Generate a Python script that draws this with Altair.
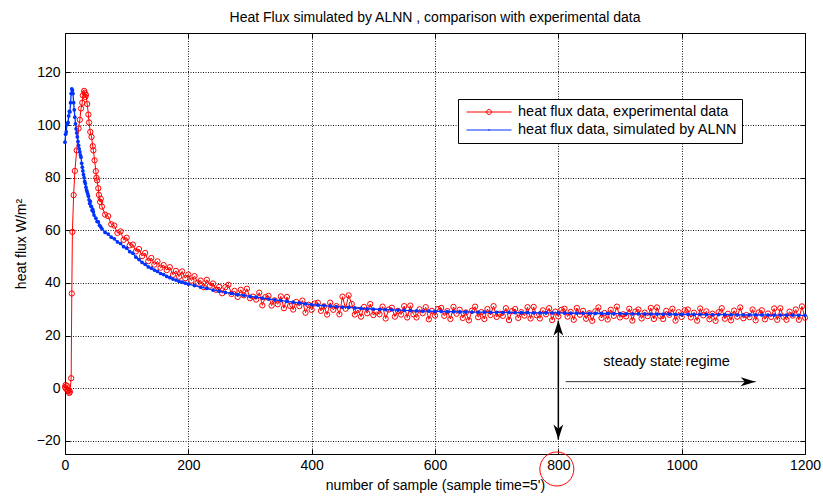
import altair as alt
import pandas as pd

EXP = "heat flux data, experimental data"
SIM = "heat flux data, simulated by ALNN"
FONT = "Liberation Sans"

# ---------------- experimental data (red, circles) ----------------
exp_early_x = [0, 1, 2, 3, 4, 5, 6, 7, 8, 10, 11, 12, 14, 16, 19, 22, 24, 26, 28, 29,
               31, 32, 33, 34, 36, 38, 39, 41, 43, 45, 46, 48, 50, 51, 52, 54, 55, 57, 58]
exp_early_y = [0.4, 1.2, -0.3, 0.9, -0.6, -1.2, -0.8, -1.8, -1.3, 3.8, 36.0, 59.4, 73.4, 82.6,
               90.4, 98.7, 102.0, 106.3, 108.5, 111.3, 113.0, 112.3, 110.7, 111.5, 108.0,
               104.0, 101.0, 97.4, 95.5, 92.0, 90.4, 86.6, 82.5, 80.0, 79.0, 76.0, 73.5,
               70.8, 72.0]
exp_step_x = list(range(60, 1201, 5))
exp_step_y = [
    69.0, 66.0, 65.4, 62.3, 61.8, 59.0, 59.6, 56.4, 57.2, 54.3,
    54.6, 52.0, 52.9, 50.2, 51.4, 48.3, 49.5, 47.0, 48.2, 45.8,
    46.8, 44.9, 46.0, 43.1, 44.6, 42.4, 44.4, 41.8, 43.2, 40.9,
    42.6, 40.1, 40.9, 38.4, 41.2, 39.0, 39.8, 37.4, 38.5, 36.1,
    38.4, 39.3, 35.8, 37.0, 34.7, 37.4, 35.3, 37.8, 34.2, 34.8,
    33.7, 36.3, 31.5, 34.6, 35.1, 31.4, 33.4, 31.9, 34.9, 30.4,
    34.7, 31.3, 29.9, 32.8, 31.2, 33.3, 28.7, 31.7, 29.8, 32.2,
    32.5, 29.4, 31.1, 28.0, 32.5, 29.8, 31.2, 28.1, 34.8, 30.2,
    35.3, 32.0, 28.0, 29.8, 27.2, 30.9, 28.5, 32.0, 27.8, 29.0,
    28.1, 31.0, 26.5, 29.9, 30.6, 27.2, 29.4, 28.0, 31.2, 26.9,
    31.4, 28.1, 26.9, 30.0, 28.5, 30.8, 26.2, 29.4, 27.6, 30.1,
    30.5, 27.5, 29.3, 26.3, 30.9, 28.3, 29.8, 26.7, 28.8, 25.8,
    29.5, 31.0, 27.0, 28.9, 26.3, 30.1, 27.8, 31.2, 27.1, 28.3,
    27.5, 30.4, 25.9, 29.3, 30.1, 26.7, 28.9, 27.6, 30.8, 26.5,
    30.9, 27.7, 26.5, 29.6, 28.1, 30.4, 25.9, 29.1, 27.3, 29.8,
    30.2, 27.2, 29.0, 26.0, 30.5, 27.9, 29.4, 26.4, 28.5, 25.6,
    29.2, 30.7, 26.7, 28.6, 26.1, 29.8, 27.5, 31.0, 26.9, 28.1,
    27.3, 30.2, 25.7, 29.1, 29.9, 26.5, 28.7, 27.4, 30.5, 26.3,
    30.7, 27.5, 26.3, 29.4, 27.9, 30.2, 25.7, 28.9, 27.1, 29.6,
    29.9, 26.9, 28.7, 25.7, 30.3, 27.7, 29.2, 26.2, 28.3, 25.6,
    28.9, 30.4, 26.4, 28.3, 25.8, 29.5, 27.2, 30.7, 26.6, 27.8,
    27.0, 29.9, 25.8, 28.8, 29.6, 26.2, 28.4, 27.1, 30.3, 26.0,
    30.4, 27.2, 26.0, 29.1, 27.6, 29.9, 26.0, 31.1, 26.8,
]

# ---------------- simulated data (blue, dots) ----------------
sim_early_x = list(range(0, 48)) + [50, 52, 54, 56, 58]
sim_early_y = [93.5, 96.5, 97.4, 100.2, 100.6, 101.0, 103.5, 105.2, 105.0, 108.5,
               112.0, 113.8, 113.2, 112.0, 108.5, 105.8, 103.0, 100.5, 98.6, 97.0,
               95.5, 93.8, 92.3, 91.0, 89.8, 88.6, 87.8, 85.5, 84.0, 82.6,
               81.2, 80.0, 78.6, 77.8, 76.4, 75.3, 74.6, 73.8, 73.0, 71.6,
               70.2, 71.0, 69.2, 69.0, 67.6, 68.0, 67.0, 65.8,
               64.6, 63.4, 63.2, 61.9, 61.3]
sim_mid_x = list(range(60, 200, 5))
sim_mid_y = [60.6, 59.2, 58.6, 57.4, 56.8, 55.6, 55.0, 53.8, 53.2, 51.9,
             51.3, 49.8, 48.9, 47.8, 47.1, 46.1, 45.6, 44.9, 44.4, 43.6,
             43.2, 42.5, 42.0, 41.5, 41.1, 40.6, 40.3, 39.9]
sim_late_x = list(range(200, 1201, 10))
sim_late_y = [
    39.6, 39.0, 38.4, 37.9, 37.3, 36.9, 36.4, 36.0, 35.6, 35.3,
    34.9, 34.6, 34.2, 33.9, 33.6, 33.3, 33.0, 32.7, 32.4, 32.1,
    31.8, 31.6, 31.4, 31.2, 31.0, 30.8, 30.7, 30.5, 30.3, 30.2,
    30.1, 30.0, 29.9, 29.8, 29.7, 29.6, 29.5, 29.4, 29.3, 29.3,
    29.2, 29.2, 29.1, 29.1, 29.0, 29.0, 28.95, 28.9, 28.9, 28.85,
    28.85, 28.8, 28.8, 28.75, 28.7, 28.7, 28.65, 28.65, 28.6, 28.6,
    28.6, 28.55, 28.5, 28.5, 28.45, 28.45, 28.4, 28.4, 28.4, 28.35,
    28.35, 28.3, 28.3, 28.25, 28.25, 28.2, 28.2, 28.15, 28.15, 28.1,
    28.1, 28.1, 28.05, 28.05, 28.0, 28.0, 28.0, 27.95, 27.95, 27.9,
    27.9, 27.9, 27.85, 27.85, 27.8, 27.8, 27.8, 27.75, 27.75, 27.7,
    27.7,
]

# ---------------- annotations ----------------
varrow_x = [800]
varrow_bottom = [-19.5]
varrow_top = [25.7]
harrow_x1 = [812]
harrow_x2 = [1120]
harrow_y = [2.5]
note_x = [873]
note_y = [10.0]
note_text = ["steady state regime"]
mark_tick_x = [800]
mark_tick_y = [-25]

x_ticks = [0, 200, 400, 600, 800, 1000, 1200]
y_ticks = [-20, 0, 20, 40, 60, 80, 100, 120]
x_domain = [0, 1200]
y_domain = [-25, 135]

exp_df = pd.DataFrame({"x": exp_early_x + exp_step_x, "y": exp_early_y + exp_step_y})
exp_df["series"] = EXP
sim_df = pd.DataFrame({"x": sim_early_x + sim_mid_x + sim_late_x,
                       "y": sim_early_y + sim_mid_y + sim_late_y})
sim_df["series"] = SIM
all_df = pd.concat([exp_df, sim_df], ignore_index=True)

xs = alt.Scale(domain=x_domain, nice=False, zero=False)
ys = alt.Scale(domain=y_domain, nice=False, zero=False)

main_x_axis = alt.Axis(values=x_ticks, format="d", labelFlush=False, grid=True,
                       gridDash=[1, 1.5], gridColor="black", gridOpacity=0.9, domain=False,
                       ticks=True, tickSize=5, offset=-5, tickColor="black", labelPadding=4,
                       labelFont=FONT, labelFontSize=14, labelColor="black",
                       title="number of sample (sample time=5')", titleFont=FONT,
                       titleFontSize=14, titleFontWeight="normal", titleColor="black",
                       titlePadding=6)
main_y_axis = alt.Axis(values=y_ticks, format="d", grid=True, gridDash=[1, 1.5],
                       gridColor="black", gridOpacity=0.9, domain=False, ticks=True,
                       tickSize=5, offset=-5, tickColor="black", labelPadding=5,
                       labelFont=FONT, labelFontSize=14, labelColor="black",
                       title="heat flux W/m²", titleFont=FONT, titleFontSize=14,
                       titleFontWeight="normal", titleColor="black", titlePadding=8)
top_axis = alt.Axis(orient="top", values=x_ticks, grid=False, domain=False, labels=False,
                    ticks=True, tickSize=5, offset=-5, tickColor="black", title=None)
right_axis = alt.Axis(orient="right", values=y_ticks, grid=False, domain=False, labels=False,
                      ticks=True, tickSize=5, offset=-5, tickColor="black", title=None)

RED = "#ff0000"
BLUE = "#0033ff"

exp_line = alt.Chart(exp_df).mark_line(color=RED, strokeWidth=1).encode(
    x=alt.X("x:Q", scale=xs, axis=main_x_axis),
    y=alt.Y("y:Q", scale=ys, axis=main_y_axis),
)
exp_pts = alt.Chart(exp_df).mark_point(shape="circle", filled=False, color=RED, size=28,
                                       strokeWidth=1, opacity=1).encode(
    x=alt.X("x:Q", scale=xs, axis=None), y=alt.Y("y:Q", scale=ys, axis=None))
sim_line = alt.Chart(sim_df).mark_line(color=BLUE, strokeWidth=1.3).encode(
    x=alt.X("x:Q", scale=xs, axis=None), y=alt.Y("y:Q", scale=ys, axis=None))
sim_pts = alt.Chart(sim_df).mark_point(shape="circle", filled=True, color=BLUE, size=14,
                                       opacity=1).encode(
    x=alt.X("x:Q", scale=xs, axis=None), y=alt.Y("y:Q", scale=ys, axis=None))

PATH_EXP = "M-1,0L1,0M0.11,0A0.11,0.11,0,1,1,-0.11,0A0.11,0.11,0,1,1,0.11,0Z"
PATH_SIM = "M-1,0L1,0M0,-0.04L0,0.04"
leg = alt.Legend(orient="none", legendX=393, legendY=66, title=None, padding=4,
                 symbolOffset=4, fillColor="white", strokeColor="black", cornerRadius=0,
                 labelFont=FONT, labelFontSize=14.5, labelColor="black", symbolSize=2025,
                 symbolStrokeWidth=1, clipHeight=18, labelOffset=6, symbolOpacity=1,
                 rowPadding=0, labelLimit=400)
legend_layer = alt.Chart(all_df).mark_point(filled=False, opacity=0).encode(
    x=alt.X("x:Q", scale=xs, axis=None),
    y=alt.Y("y:Q", scale=ys, axis=None),
    color=alt.Color("series:N", scale=alt.Scale(domain=[EXP, SIM], range=[RED, BLUE]), legend=leg),
    shape=alt.Shape("series:N", scale=alt.Scale(domain=[EXP, SIM], range=[PATH_EXP, PATH_SIM]), legend=leg),
)

vdf = pd.DataFrame({"x": varrow_x, "y": varrow_bottom, "y2": varrow_top})
vrule = alt.Chart(vdf).mark_rule(color="black", strokeWidth=1.5).encode(
    x=alt.X("x:Q", scale=xs, axis=None), y=alt.Y("y:Q", scale=ys, axis=None), y2="y2:Q")
up_head = alt.Chart(vdf).mark_point(shape="M0,0L0.65,2L0,1.45L-0.65,2Z", filled=True,
                                    color="black", size=225, opacity=1).encode(
    x=alt.X("x:Q", scale=xs, axis=None), y=alt.Y("y2:Q", scale=ys, axis=None))
down_head = alt.Chart(vdf).mark_point(shape="M0,0L0.65,-2L0,-1.45L-0.65,-2Z", filled=True,
                                      color="black", size=225, opacity=1).encode(
    x=alt.X("x:Q", scale=xs, axis=None), y=alt.Y("y:Q", scale=ys, axis=None))

hdf = pd.DataFrame({"x": harrow_x1, "x2": harrow_x2, "y": harrow_y})
hrule = alt.Chart(hdf).mark_rule(color="#333333", strokeWidth=1).encode(
    x=alt.X("x:Q", scale=xs, axis=None), x2="x2:Q", y=alt.Y("y:Q", scale=ys, axis=None))
right_head = alt.Chart(hdf).mark_point(shape="M0,0L-2,0.6L-1.45,0L-2,-0.6Z", filled=True,
                                       color="black", size=225, opacity=1).encode(
    x=alt.X("x2:Q", scale=xs, axis=None), y=alt.Y("y:Q", scale=ys, axis=None))

tdf = pd.DataFrame({"x": note_x, "y": note_y, "t": note_text})
note = alt.Chart(tdf).mark_text(align="left", baseline="middle", font=FONT, fontSize=14.5,
                                color="black").encode(
    x=alt.X("x:Q", scale=xs, axis=None), y=alt.Y("y:Q", scale=ys, axis=None), text="t:N")

cdf = pd.DataFrame({"x": mark_tick_x, "y": mark_tick_y})
ring = alt.Chart(cdf).mark_point(shape="circle", filled=False, color=RED, size=1156,
                                 strokeWidth=1, opacity=1, yOffset=15, xOffset=-1.5).encode(
    x=alt.X("x:Q", scale=xs, axis=top_axis), y=alt.Y("y:Q", scale=ys, axis=right_axis))

chart = alt.layer(
    exp_line, exp_pts, sim_line, sim_pts, legend_layer,
    vrule, up_head, down_head, hrule, right_head, note, ring,
).resolve_axis(x="independent", y="independent").properties(
    width=740, height=421,
    padding={"left": 65, "top": 33, "right": 18, "bottom": 42},
    autosize=alt.AutoSizeParams(type="none"),
    background="white",
    title=alt.TitleParams("Heat Flux simulated by ALNN , comparison with experimental data",
                          font=FONT, fontSize=14, fontWeight="normal", color="black",
                          anchor="middle", offset=8),
).configure_view(stroke="black", strokeWidth=1)

chart.save("out.html", embed_options={"renderer": "svg", "actions": False})
